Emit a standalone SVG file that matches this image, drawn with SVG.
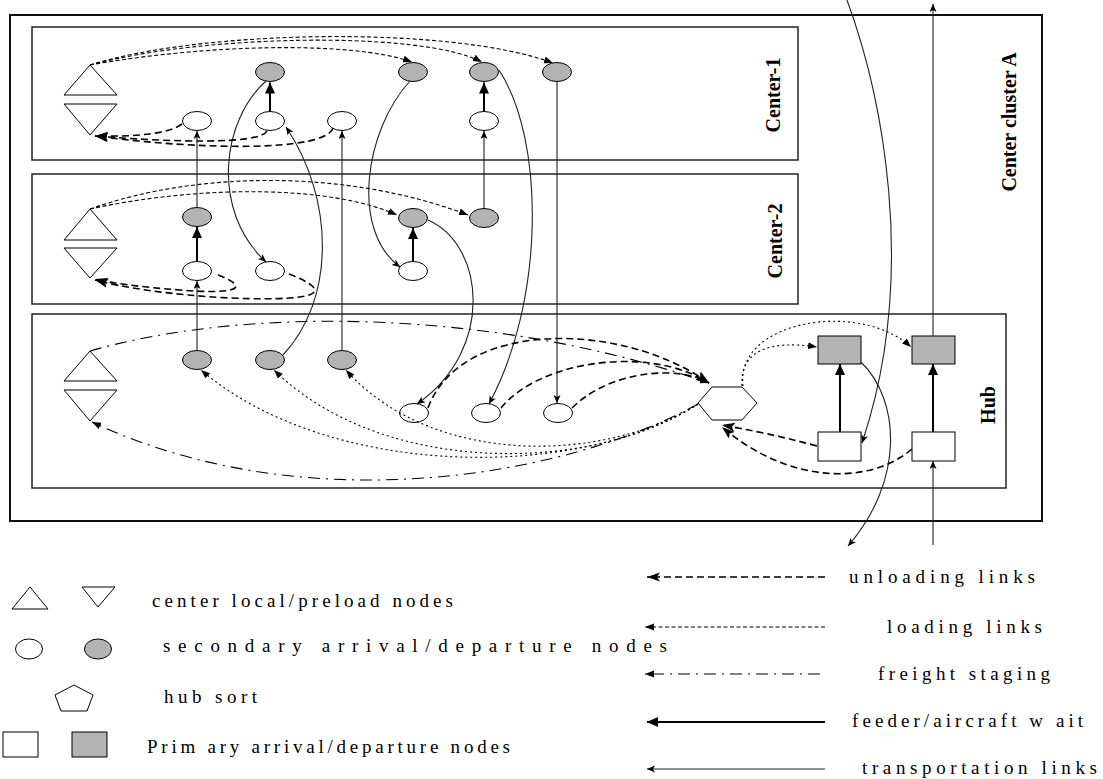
<svg xmlns="http://www.w3.org/2000/svg" width="1103" height="779" viewBox="0 0 1103 779">
<style>
.outer{fill:none;stroke:#111;stroke-width:2}
.box{fill:none;stroke:#222;stroke-width:1.5}
.lbl{font-family:"Liberation Serif","Times New Roman",serif;font-weight:bold;font-size:20px;fill:#000}
.leg{font-family:"Liberation Serif","Times New Roman",serif;font-size:19px;fill:#000}
.tri{fill:#fff;stroke:#000;stroke-width:1}
.wn{fill:#fff;stroke:#000;stroke-width:1}
.gn{fill:#b3b3b3;stroke:#000;stroke-width:1}
.tr{fill:none;stroke:#222;stroke-width:1.1;marker-end:url(#aT)}
.fd{fill:none;stroke:#000;stroke-width:2;marker-end:url(#aF)}
.ul{fill:none;stroke:#000;stroke-width:1.6;stroke-dasharray:7 4;marker-end:url(#aU)}
.ld{fill:none;stroke:#000;stroke-width:1.1;stroke-dasharray:4 2.5;marker-end:url(#aL)}
.ldh{fill:none;stroke:#000;stroke-width:1.1;stroke-dasharray:2 3;marker-end:url(#aL)}
.fs{fill:none;stroke:#000;stroke-width:1.1;stroke-dasharray:12 6 2 6;marker-end:url(#aS)}
</style>
<defs>
<marker id="aT" markerUnits="userSpaceOnUse" markerWidth="9" markerHeight="8" refX="8" refY="3.5" orient="auto"><path d="M0,0 L8,3.5 L0,7 L2,3.5 z" fill="#000"/></marker>
<marker id="aF" markerUnits="userSpaceOnUse" markerWidth="12" markerHeight="11" refX="11" refY="5" orient="auto"><path d="M0,0 L11,5 L0,10 z" fill="#000"/></marker>
<marker id="aU" markerUnits="userSpaceOnUse" markerWidth="14" markerHeight="10" refX="13" refY="4.5" orient="auto"><path d="M0,0 L13,4.5 L0,9 L3,4.5 z" fill="#000"/></marker>
<marker id="aL" markerUnits="userSpaceOnUse" markerWidth="10" markerHeight="8" refX="9" refY="3.5" orient="auto"><path d="M0,0 L9,3.5 L0,7 z" fill="#000"/></marker>
<marker id="aS" markerUnits="userSpaceOnUse" markerWidth="10" markerHeight="8" refX="9" refY="3.5" orient="auto"><path d="M0,0 L9,3.5 L0,7 z" fill="#000"/></marker>
</defs>

<g id="cluster-A">
<rect class="outer" x="10" y="15" width="1032" height="506"/>
<text class="lbl" transform="translate(1016,122) rotate(-90)" text-anchor="middle">Center cluster A</text>
</g>
<g id="center-1">
<rect class="box" x="32" y="27" width="766" height="133"/>
<text class="lbl" transform="translate(780,95) rotate(-90)" text-anchor="middle">Center-1</text>
</g>
<g id="center-2">
<rect class="box" x="32" y="174" width="766" height="130"/>
<text class="lbl" transform="translate(782,241) rotate(-90)" text-anchor="middle">Center-2</text>
</g>
<g id="hub">
<rect class="box" x="32" y="314" width="974" height="174"/>
<text class="lbl" transform="translate(995,405) rotate(-90)" text-anchor="middle">Hub</text>
</g>

<g id="c1-local"><polygon class="tri" points="90,65 117,95 64,95"/></g>
<g id="c1-preload"><polygon class="tri" points="64,104 117,104 90,135"/></g>
<g id="c1-g1"><ellipse class="gn" cx="270" cy="72" rx="14.5" ry="9.5"/></g>
<g id="c1-g2"><ellipse class="gn" cx="413" cy="72" rx="14.5" ry="9.5"/></g>
<g id="c1-g3"><ellipse class="gn" cx="484" cy="72" rx="14.5" ry="9.5"/></g>
<g id="c1-g4"><ellipse class="gn" cx="557" cy="72" rx="14.5" ry="9.5"/></g>
<g id="c1-w1"><ellipse class="wn" cx="197" cy="121" rx="14.5" ry="9.5"/></g>
<g id="c1-w2"><ellipse class="wn" cx="270" cy="121" rx="14.5" ry="9.5"/></g>
<g id="c1-w3"><ellipse class="wn" cx="342" cy="121" rx="14.5" ry="9.5"/></g>
<g id="c1-w4"><ellipse class="wn" cx="484" cy="121" rx="14.5" ry="9.5"/></g>

<g id="c2-local"><polygon class="tri" points="90,209 117,240 64,240"/></g>
<g id="c2-preload"><polygon class="tri" points="64,248 117,248 90,278"/></g>
<g id="c2-g1"><ellipse class="gn" cx="197" cy="217" rx="14.5" ry="9.5"/></g>
<g id="c2-g2"><ellipse class="gn" cx="413" cy="218" rx="14.5" ry="9.5"/></g>
<g id="c2-g3"><ellipse class="gn" cx="484" cy="218" rx="14.5" ry="9.5"/></g>
<g id="c2-w1"><ellipse class="wn" cx="197" cy="271" rx="14.5" ry="9.5"/></g>
<g id="c2-w2"><ellipse class="wn" cx="270" cy="271" rx="14.5" ry="9.5"/></g>
<g id="c2-w3"><ellipse class="wn" cx="413" cy="271" rx="14.5" ry="9.5"/></g>

<g id="h-local"><polygon class="tri" points="90,351 117,381 64,381"/></g>
<g id="h-preload"><polygon class="tri" points="64,390 117,390 90,421"/></g>
<g id="h-g1"><ellipse class="gn" cx="197" cy="360" rx="14.5" ry="9.5"/></g>
<g id="h-g2"><ellipse class="gn" cx="270" cy="360" rx="14.5" ry="9.5"/></g>
<g id="h-g3"><ellipse class="gn" cx="342" cy="360" rx="14.5" ry="9.5"/></g>
<g id="h-w1"><ellipse class="wn" cx="414" cy="413" rx="14.5" ry="9.5"/></g>
<g id="h-w2"><ellipse class="wn" cx="486" cy="413" rx="14.5" ry="9.5"/></g>
<g id="h-w3"><ellipse class="wn" cx="558" cy="413" rx="14.5" ry="9.5"/></g>
<g id="h-sort"><polygon class="wn" points="712,387 742,387 757,403 742,420 712,420 698,403"/></g>
<g id="h-pd1"><rect class="gn" x="818" y="336" width="43" height="28"/></g>
<g id="h-pd2"><rect class="gn" x="912" y="336" width="43" height="28"/></g>
<g id="h-pa1"><rect class="wn" x="818" y="432" width="43" height="29"/></g>
<g id="h-pa2"><rect class="wn" x="912" y="432" width="43" height="29"/></g>

<g id="connectors">
<line class="fd" x1="270" y1="111.5" x2="270" y2="82.5"/>
<line class="fd" x1="484" y1="111.5" x2="484" y2="82.5"/>
<line class="fd" x1="197" y1="261.5" x2="197" y2="227"/>
<line class="fd" x1="413" y1="261.5" x2="413" y2="228"/>
<line class="fd" x1="840" y1="432" x2="840" y2="364"/>
<line class="fd" x1="933" y1="432" x2="933" y2="364"/>
<line class="tr" x1="197" y1="350.5" x2="197" y2="281"/>
<line class="tr" x1="197" y1="207.5" x2="197" y2="131"/>
<line class="tr" x1="342" y1="350.5" x2="342" y2="131"/>
<line class="tr" x1="484" y1="208.5" x2="484" y2="131"/>
<line class="tr" x1="557" y1="82" x2="557" y2="403"/>
<line class="tr" x1="933" y1="545" x2="933" y2="461"/>
<line class="tr" x1="933" y1="336" x2="933" y2="4"/>
<path class="tr" d="M266,81 C222,120 210,210 266,262"/>
<path class="tr" d="M283,355 C335,300 335,200 286,127"/>
<path class="tr" d="M410,81 C365,130 350,230 400,267"/>
<path class="tr" d="M499,70 C545,140 545,300 489,404"/>
<path class="tr" d="M428,220 C485,245 495,350 417,404"/>
<path class="tr" d="M847,0 C880,90 920,270 862,443"/>
<path class="tr" d="M861,362 C900,400 905,480 848,546"/>
<path class="ul" d="M182,124 C170,133 140,137 95,136"/>
<path class="ul" d="M267,131 C260,145 170,142 95,136"/>
<path class="ul" d="M333,128 C325,152 200,150 95,136"/>
<path class="ul" d="M218,275 C250,287 240,295 180,290 C140,287 110,283 95,279"/>
<path class="ul" d="M289,274 C330,290 330,302 230,298 C170,295 120,287 95,280"/>
<path class="ul" d="M428,408 C460,320 620,320 709,383"/>
<path class="ul" d="M501,408 C540,360 650,345 709,383"/>
<path class="ul" d="M572,408 C610,370 680,365 709,383"/>
<path class="ul" d="M817,446 C780,436 750,430 722,425"/>
<path class="ul" d="M912,449 C870,485 790,485 722,427"/>
<path class="ld" d="M90,65 C200,45 350,40 412,62"/>
<path class="ld" d="M90,65 C200,35 420,30 482,62"/>
<path class="ld" d="M90,65 C200,30 450,25 553,63"/>
<path class="ld" d="M90,209 C200,185 330,185 397,215"/>
<path class="ld" d="M90,209 C200,170 350,170 468,215"/>
<path class="ldh" d="M698,404 C580,480 330,480 201,370"/>
<path class="ldh" d="M698,404 C590,475 380,475 274,370"/>
<path class="ldh" d="M698,404 C600,465 430,465 346,370"/>
<path class="ldh" d="M742,386 C740,350 770,340 817,347"/>
<path class="ldh" d="M743,386 C735,320 860,300 911,347"/>
<path class="fs" d="M90,351 C250,305 500,310 709,383"/>
<path class="fs" d="M698,404 C560,480 300,520 92,422"/>
</g>

<g id="legend">
<polygon class="tri" points="30,587 48,609 12,609"/>
<polygon class="tri" points="82,587 115,587 98,607"/>
<text class="leg" x="152" y="607" textLength="301" lengthAdjust="spacing">center local/preload nodes</text>
<ellipse class="wn" cx="29" cy="649" rx="13.5" ry="10"/>
<ellipse class="gn" cx="98" cy="649" rx="13.5" ry="10"/>
<text class="leg" x="163" y="652" textLength="504" lengthAdjust="spacing">secondary arrival/departure nodes</text>
<polygon class="wn" points="74,685 93,695 87,711 61,711 55,695"/>
<text class="leg" x="164" y="703" textLength="93" lengthAdjust="spacing">hub sort</text>
<rect class="wn" x="3" y="732" width="35" height="25"/>
<rect class="gn" x="72" y="732" width="35" height="25"/>
<text class="leg" x="147" y="753" textLength="363" lengthAdjust="spacing">Prim ary arrival/departure nodes</text>

<line class="ul" x1="825" y1="577" x2="647" y2="577"/>
<text class="leg" x="849" y="583" textLength="186" lengthAdjust="spacing">unloading links</text>
<line class="ld" x1="825" y1="627" x2="645" y2="627"/>
<text class="leg" x="887" y="633" textLength="155" lengthAdjust="spacing">loading links</text>
<line class="fs" x1="820" y1="674" x2="645" y2="674"/>
<text class="leg" x="878" y="680" textLength="172" lengthAdjust="spacing">freight staging</text>
<line class="fd" x1="825" y1="722" x2="647" y2="722"/>
<text class="leg" x="852" y="727" textLength="231" lengthAdjust="spacing">feeder/aircraft w ait</text>
<line class="tr" x1="825" y1="769" x2="647" y2="769"/>
<text class="leg" x="862" y="774" textLength="235" lengthAdjust="spacing">transportation links</text>
</g>
</svg>
